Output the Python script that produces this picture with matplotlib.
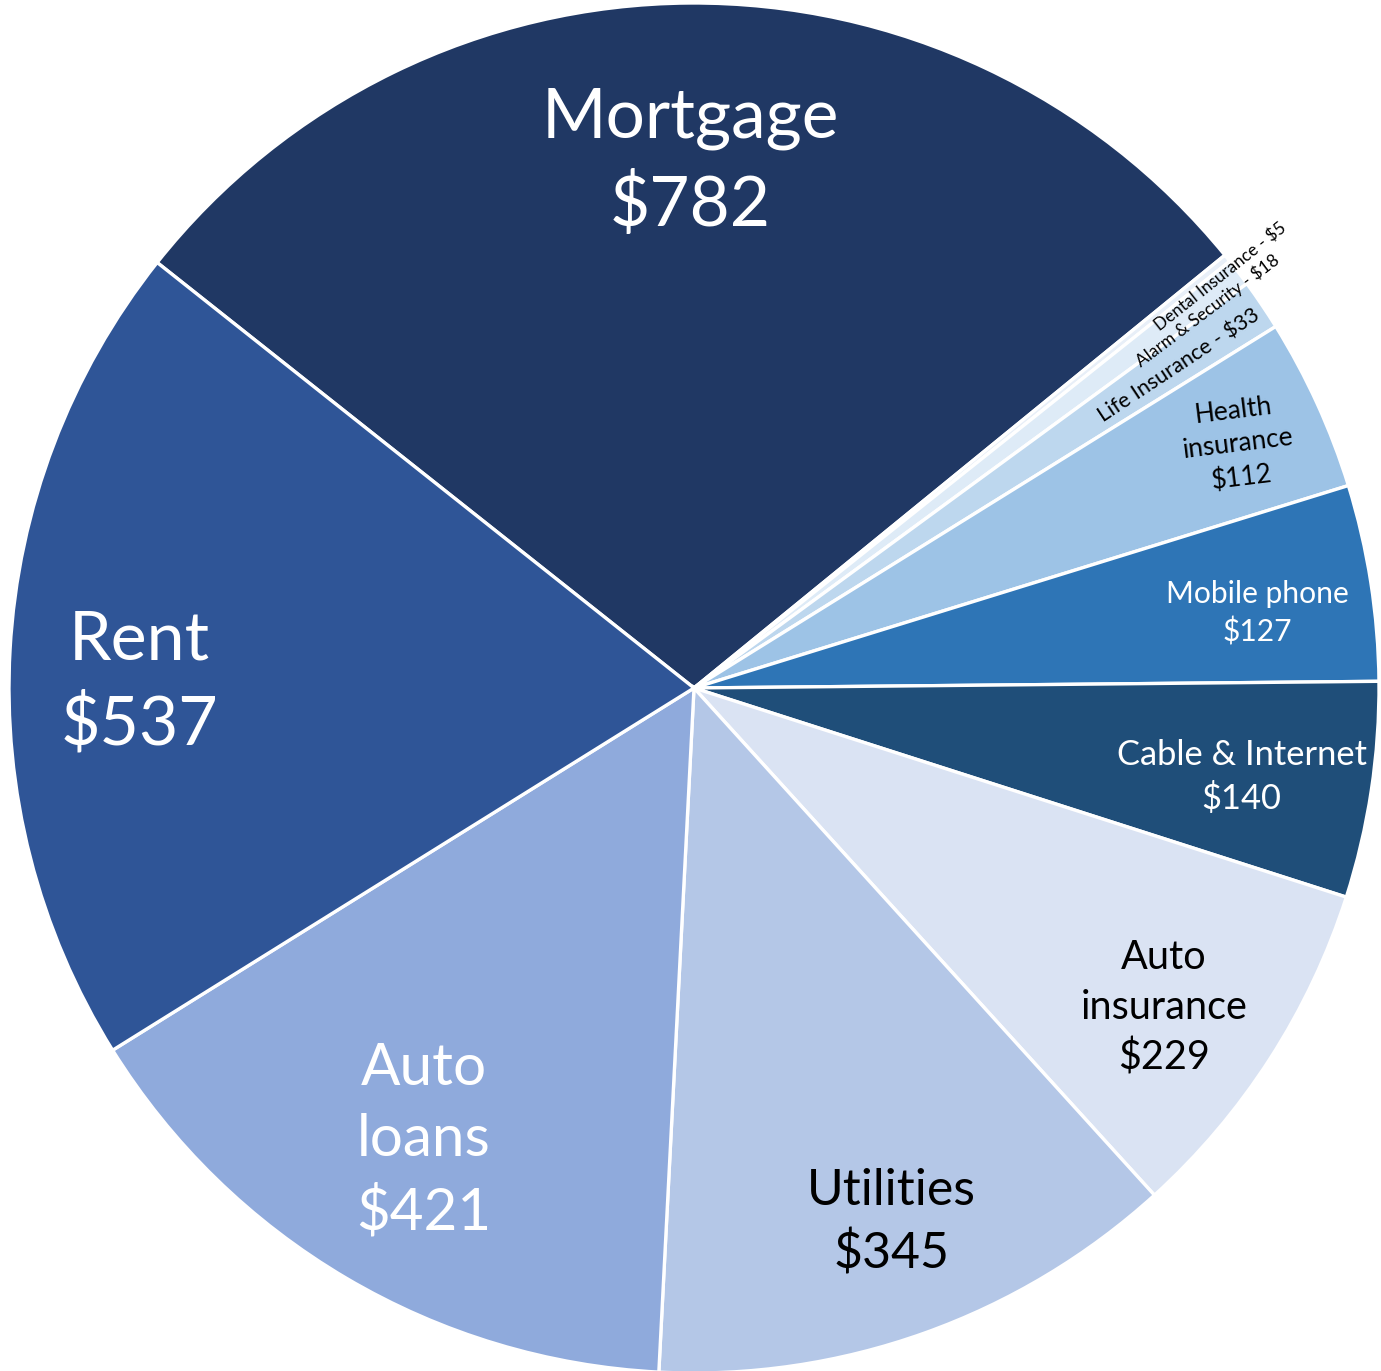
import numpy as np
import matplotlib.pyplot as plt

# monthly expenses, clockwise from the top-left slice
categories = ["Mortgage", "Dental Insurance", "Alarm & Security", "Life Insurance",
              "Health insurance", "Mobile phone", "Cable & Internet", "Auto insurance",
              "Utilities", "Auto loans", "Rent"]
amounts = [782, 5, 18, 33, 112, 127, 140, 229, 345, 421, 537]
label_texts = ["Mortgage\n$782", "Dental Insurance - $5", "Alarm & Security - $18",
               "Life Insurance - $33", "Health\ninsurance\n$112", "Mobile phone\n$127",
               "Cable & Internet\n$140", "Auto\ninsurance\n$229", "Utilities\n$345",
               "Auto\nloans\n$421", "Rent\n$537"]

colors = ["#203864", "#E8EFF8", "#DEEBF7", "#BDD7EE", "#9DC3E6", "#2E75B6",
          "#1F4E79", "#DAE3F3", "#B4C7E7", "#8FAADC", "#2F5597"]
text_colors = ["white", "black", "black", "black", "black", "white",
               "white", "black", "black", "white", "white"]
font_sizes = [50, 12.3, 12.5, 15.5, 19, 21.6, 24.8, 28.5, 36, 42, 49]
# radial distance (fraction of radius) and extra angle offset for each label
label_r = [0.767, 0.975, 0.93, 0.85, 0.87, 0.83, 0.81, 0.83, 0.832, 0.77, 0.81]
label_dtheta = [0, -0.8, -1.0, -0.4, -0.4, -1.3, -0.6, -1.5, 0.6, -0.3, 2.7]
rotations = [0, 38.5, 37, 33.5, 7, 0, 0, 0, 0, 0, 0]

W, H = 1381, 1371
cx, cy, R = 694, 688, 685

fig = plt.figure(figsize=(W / 100, H / 100), dpi=100)
ax = fig.add_axes([0, 0, 1, 1])

wedges, _ = ax.pie(amounts, colors=colors, startangle=141.6, counterclock=False,
                   radius=1.0, wedgeprops=dict(edgecolor="white", linewidth=2.4))

for w, txt, tc, fs, r, dt, rot in zip(wedges, label_texts, text_colors, font_sizes,
                                      label_r, label_dtheta, rotations):
    mid = np.deg2rad((w.theta1 + w.theta2) / 2 + dt)
    ax.text(r * np.cos(mid), r * np.sin(mid), txt, color=tc, fontsize=fs,
            family=["Lato", "DejaVu Sans"], ha="center", va="center",
            rotation=rot, rotation_mode="anchor", linespacing=1.42)

ax.set_xlim(-cx / R, (W - cx) / R)
ax.set_ylim(-(H - cy) / R, cy / R)
ax.set_aspect("equal", adjustable="datalim")
ax.axis("off")

fig.savefig("out.png", dpi=100, facecolor="white")
